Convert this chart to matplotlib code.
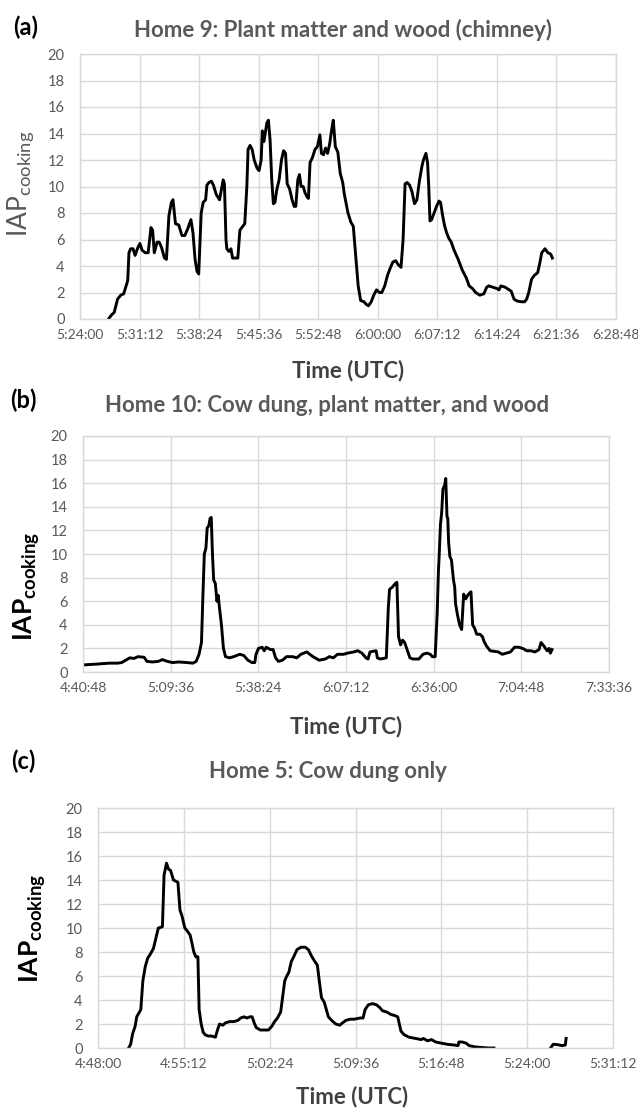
import matplotlib
matplotlib.use("Agg")
import matplotlib.pyplot as plt
import numpy as np

# ---------------- data ----------------
# Panel (a) Home 9 : minutes after 5:24:00
a_start = "5:24:00"
a_min = [3.45, 3.80, 4.14, 4.54, 4.93, 5.28, 5.52, 5.77, 5.92, 6.12, 6.41, 6.66, 7.00, 7.25, 7.50,
         7.89, 8.24, 8.58, 8.78, 8.98, 9.32, 9.57, 9.86, 10.21, 10.45, 10.75, 11.05, 11.24, 11.54,
         11.93, 12.33, 12.67, 13.02, 13.41, 13.66, 13.91, 14.15, 14.35, 14.65, 14.89, 15.19, 15.34,
         15.58, 15.88, 16.13, 16.47, 16.87, 17.11, 17.31, 17.46, 17.65, 17.75, 18.00, 18.25, 18.44,
         18.84, 19.08, 19.33, 19.68, 19.92, 20.17, 20.32, 20.56, 20.81, 21.06, 21.40, 21.65, 21.90,
         22.04, 22.24, 22.39, 22.59, 22.78, 22.98, 23.18, 23.38, 23.57, 23.77, 24.07, 24.36, 24.61,
         24.85, 25.05, 25.35, 25.64, 25.89, 26.09, 26.33, 26.53, 26.73, 26.98, 27.22, 27.47, 27.62,
         27.81, 28.11, 28.41, 28.70, 29.00, 29.19, 29.44, 29.69, 29.93, 30.18, 30.43, 30.62, 30.87,
         31.17, 31.46, 31.76, 31.96, 32.15, 32.40, 32.75, 33.04, 33.24, 33.44, 33.63, 33.93, 34.32,
         34.62, 34.87, 35.21, 35.51, 35.85, 36.20, 36.49, 36.84, 37.18, 37.48, 37.82, 38.17, 38.47,
         38.81, 39.06, 39.30, 39.55, 39.85, 40.14, 40.44, 40.73, 41.03, 41.33, 41.52, 41.82, 42.02,
         42.16, 42.31, 42.51, 42.81, 43.10, 43.40, 43.59, 43.84, 44.09, 44.33, 44.58, 44.88, 45.22,
         45.72, 46.21, 46.70, 47.05, 47.44, 47.84, 48.33, 48.82, 49.17, 49.41, 49.91, 50.40, 50.65,
         50.89, 51.39, 51.88, 52.13, 52.47, 52.87, 53.36, 53.75, 54.00, 54.25, 54.59, 54.94, 55.33,
         55.58, 55.82, 56.22, 56.56, 56.91, 57.11]
a_iap = [0.0, 0.3, 0.5, 1.5, 1.8, 1.9, 2.4, 2.9, 5.0, 5.3, 5.3, 4.8, 5.4, 5.7, 5.2,
         5.0, 5.0, 6.9, 6.7, 5.0, 5.8, 5.8, 5.4, 4.6, 4.5, 7.8, 8.8, 9.0, 7.2,
         7.1, 6.3, 6.3, 6.8, 7.5, 6.5, 4.5, 3.6, 3.4, 8.0, 8.8, 9.0, 10.1,
         10.3, 10.4, 10.1, 9.4, 9.0, 9.8, 10.5, 10.2, 6.0, 5.3, 5.1, 5.3, 4.6,
         4.6, 4.6, 6.7, 7.0, 7.2, 10.0, 12.8, 13.1, 12.8, 12.0, 11.4, 11.2, 12.0,
         14.2, 13.4, 14.0, 14.8, 15.0, 13.5, 10.5, 8.7, 8.8, 9.7, 10.5, 12.0, 12.7,
         12.5, 10.2, 9.8, 9.0, 8.5, 8.5, 10.5, 10.9, 10.0, 10.0, 9.5, 9.2, 9.1,
         11.8, 12.2, 12.8, 13.0, 13.9, 12.5, 12.4, 12.9, 12.5, 13.2, 14.3, 15.0, 13.0,
         12.6, 11.0, 10.3, 9.4, 8.8, 8.0, 7.3, 7.0, 5.5, 4.0, 2.5, 1.4, 1.3,
         1.1, 1.0, 1.3, 1.8, 2.2, 2.0, 2.0, 2.5, 3.3, 3.8, 4.3, 4.4, 4.1,
         3.9, 6.0, 10.2, 10.3, 10.1, 9.6, 8.7, 9.0, 10.4, 11.5, 12.0, 12.5, 11.8,
         10.0, 7.4, 7.5, 8.0, 8.5, 8.9, 8.8, 7.8, 7.0, 6.5, 6.1, 5.8, 5.2,
         4.5, 3.7, 3.1, 2.5, 2.3, 2.0, 1.8, 1.9, 2.4, 2.5, 2.4, 2.3, 2.2,
         2.5, 2.4, 2.2, 2.1, 1.5, 1.35, 1.3, 1.3, 1.5, 2.0, 3.0, 3.3, 3.5,
         4.2, 5.0, 5.3, 5.0, 4.9, 4.6]
a_ticks = ["5:24:00", "5:31:12", "5:38:24", "5:45:36", "5:52:48", "6:00:00",
           "6:07:12", "6:14:24", "6:21:36", "6:28:48"]

# Panel (b) Home 10 : minutes after 4:40:48
b_start = "4:40:48"
b_min = [0.0, 3.34, 6.02, 8.69, 11.37, 12.71, 14.04, 15.38, 16.72, 18.06, 20.06, 21.0, 22.74,
         24.74, 26.08, 27.69, 29.43, 31.43, 34.11, 36.11, 37.18, 38.12, 38.92, 39.46, 39.86,
         40.39, 40.79, 41.33, 41.73, 42.13, 42.53, 42.93, 43.47, 44.0, 44.41, 44.81, 45.48,
         46.14, 46.81, 48.15, 49.49, 51.49, 52.83, 54.17, 55.51, 56.44, 56.84, 57.65, 58.85,
         59.52, 60.19, 61.53, 62.46, 63.26, 64.2, 65.54, 66.88, 68.88, 70.22, 71.56, 73.56,
         74.5, 75.57, 77.58, 79.58, 80.92, 82.26, 83.59, 85.6, 86.94, 88.94, 90.28, 91.62,
         92.96, 93.63, 94.29, 96.3, 96.7, 97.64, 99.64, 100.31, 100.71, 101.65, 102.59,
         103.12, 103.66, 104.33, 104.99, 105.66, 106.33, 107.40, 108.34, 110.34, 111.68,
         113.02, 114.09, 114.76, 115.69, 116.36, 116.76, 117.03, 117.43, 117.83, 118.24,
         118.77, 119.17, 119.57, 119.84, 120.11, 120.51, 121.04, 121.71, 122.11, 122.38,
         123.05, 123.72, 124.39, 125.06, 125.73, 126.39, 127.06, 127.46, 128.0, 128.67,
         129.34, 130.41, 131.21, 131.74, 132.55, 133.75, 135.09, 136.43, 137.76, 139.1,
         140.44, 141.78, 143.11, 144.45, 145.79, 147.13, 148.46, 149.8, 150.47, 151.41,
         152.48, 153.14, 153.54, 154.08]
b_iap = [0.6, 0.65, 0.7, 0.75, 0.75, 0.8, 1.0, 1.2, 1.15, 1.3, 1.25, 0.9, 0.85,
         0.9, 1.05, 0.9, 0.8, 0.85, 0.8, 0.75, 0.9, 1.5, 2.5, 7.0, 10.0,
         10.5, 12.2, 12.4, 13.0, 13.1, 10.0, 7.8, 7.5, 6.0, 6.5, 5.5, 4.0,
         2.0, 1.3, 1.2, 1.3, 1.5, 1.4, 1.0, 0.8, 0.8, 1.5, 2.0, 2.1,
         1.8, 2.1, 1.9, 1.9, 1.2, 0.9, 1.0, 1.3, 1.3, 1.2, 1.5, 1.7,
         1.5, 1.3, 1.0, 1.1, 1.3, 1.2, 1.5, 1.5, 1.6, 1.7, 1.8, 1.6,
         1.2, 1.1, 1.7, 1.8, 1.2, 1.1, 1.2, 5.5, 7.0, 7.2, 7.5,
         7.6, 3.0, 2.3, 2.7, 2.5, 2.0, 1.2, 1.1, 1.1, 1.5,
         1.6, 1.5, 1.3, 1.3, 5.0, 8.5, 10.0, 12.5, 13.5, 15.5,
         15.8, 16.4, 13.2, 13.0, 11.0, 9.8, 9.5, 7.8, 7.2, 5.8,
         4.8, 4.0, 3.6, 6.6, 6.2, 6.5, 6.7, 6.8, 4.0, 3.7,
         3.2, 3.2, 3.0, 2.6, 2.2, 1.8, 1.75, 1.7, 1.5, 1.6,
         1.7, 2.1, 2.1, 2.0, 1.8, 1.8, 1.7, 1.9, 2.5, 2.2,
         1.8, 2.0, 1.6, 1.9]
b_ticks = ["4:40:48", "5:09:36", "5:38:24", "6:07:12", "6:36:00", "7:04:48", "7:33:36"]

# Panel (c) Home 5 : minutes after 4:48:00 (nan = no reading)
c_start = "4:48:00"
c_min = [2.565, 2.736, 2.907, 3.113, 3.249, 3.420, 3.591, 3.762, 3.968, 4.173, 4.378, 4.652,
         4.891, 5.062, 5.404, 5.541, 5.746, 5.917, 6.088, 6.328, 6.533, 6.704, 6.875, 7.046,
         7.285, 7.525, 7.730, 7.867, 8.038, 8.209, 8.380, 8.483, 8.654, 8.825, 8.996, 9.235,
         9.509, 9.851, 10.022, 10.193, 10.466, 10.706, 11.048, 11.390, 11.732, 11.971, 12.245,
         12.484, 12.758, 12.929, 13.100, 13.271, 13.613, 13.955, 14.297, 14.571, 14.810,
         15.050, 15.323, 15.494, 15.665, 15.836, 16.007, 16.213, 16.418, 16.692, 17.034,
         17.376, 17.649, 17.889, 18.128, 18.402, 18.573, 18.744, 18.983, 19.154, 19.325,
         19.599, 19.941, 20.283, 20.522, 20.796, 21.138, 21.480, 21.993, 22.233, 22.404,
         22.677, 23.019, 23.361, 23.601, 23.874, 24.216, 24.558, 24.900, 25.140, 25.414,
         25.687, 26.098, 26.611, 27.124, 27.295, 27.637, 27.979, 28.321, 28.834, 29.347,
         29.860, 30.202, 30.271, 30.544, 30.886, 31.126, 31.570, 32.083, 32.767, 33.212,
         35.5, 37.966, 38.172, 38.411, 38.685, 38.924, 39.198, 39.266]
c_iap = [0.0, 0.3, 1.2, 1.8, 2.6, 2.9, 3.2, 5.6, 6.8, 7.5, 7.8, 8.3,
         9.3, 10.0, 10.1, 14.4, 15.4, 14.9, 14.8, 14.0, 13.9, 13.8, 11.5, 11.0,
         10.0, 9.7, 9.4, 8.8, 8.0, 7.6, 7.6, 3.2, 2.0, 1.3, 1.1, 1.0,
         1.0, 0.9, 1.5, 2.0, 1.9, 2.1, 2.2, 2.2, 2.3, 2.5, 2.6,
         2.5, 2.6, 2.6, 2.1, 1.7, 1.5, 1.5, 1.5, 1.8, 2.2,
         2.5, 3.0, 4.3, 5.6, 6.0, 6.3, 7.2, 7.6, 8.2, 8.4,
         8.4, 8.2, 7.7, 7.3, 6.9, 5.5, 4.2, 3.8, 3.2, 2.6,
         2.3, 2.0, 1.9, 2.1, 2.3, 2.4, 2.4, 2.5, 2.5, 3.2,
         3.6, 3.7, 3.6, 3.4, 3.1, 3.0, 2.8, 2.7, 2.6, 1.4,
         1.1, 0.9, 0.8, 0.7, 0.8, 0.6, 0.7, 0.5, 0.4, 0.3,
         0.25, 0.2, 0.5, 0.5, 0.4, 0.2, 0.1, 0.05, 0.0, 0.0,
         np.nan, 0.0, 0.3, 0.3, 0.25, 0.2, 0.25, 0.8]
c_ticks = ["4:48:00", "4:55:12", "5:02:24", "5:09:36", "5:16:48", "5:24:00", "5:31:12"]

titles = ["Home 9: Plant matter and wood (chimney)",
          "Home 10: Cow dung, plant matter, and wood",
          "Home 5: Cow dung only"]
letters = ["(a)", "(b)", "(c)"]
y_ticks = [0, 2, 4, 6, 8, 10, 12, 14, 16, 18, 20]


def to_sec(s):
    h, m, sec = s.split(":")
    return int(h) * 3600 + int(m) * 60 + int(sec)


# ---------------- style ----------------
FONT = "Lato"
plt.rcParams["font.family"] = [FONT, "DejaVu Sans"]
plt.rcParams["mathtext.fontset"] = "custom"
plt.rcParams["mathtext.rm"] = FONT
plt.rcParams["mathtext.bf"] = FONT + ":bold"
GRID = "#d9d9d9"
TXT = "#595959"

W, H = 638, 1113
fig = plt.figure(figsize=(W / 100, H / 100), dpi=100)


def px_axes(l, t, r, b):
    return fig.add_axes([l / W, 1 - b / H, (r - l) / W, (b - t) / H])


panels = [
    dict(box=(80, 54, 616, 319), start=a_start, mins=a_min, vals=a_iap, ticks=a_ticks,
         title_xy=(343, 30), letter_xy=(26, 27), xl_xy=(348, 371), yl_xy=(21, 184), ybold=False),
    dict(box=(83, 436, 609, 672), start=b_start, mins=b_min, vals=b_iap, ticks=b_ticks,
         title_xy=(327, 405), letter_xy=(23, 400), xl_xy=(346, 727), yl_xy=(27, 586), ybold=True),
    dict(box=(98, 808, 613, 1048), start=c_start, mins=c_min, vals=c_iap, ticks=c_ticks,
         title_xy=(328, 772), letter_xy=(23, 761), xl_xy=(352, 1097), yl_xy=(33, 928), ybold=True),
]

for i, p in enumerate(panels):
    ax = px_axes(*p["box"])
    t0 = to_sec(p["start"])
    xs = t0 + np.array(p["mins"]) * 60.0
    ax.plot(xs, p["vals"], color="black", lw=2.1, solid_joinstyle="round")
    tick_pos = [to_sec(t) for t in p["ticks"]]
    ax.set_xticks(tick_pos)
    ax.set_xticklabels(p["ticks"])
    ax.set_xlim(tick_pos[0], tick_pos[-1])
    ax.set_yticks(y_ticks)
    ax.set_ylim(0, 20)
    ax.grid(True, color=GRID, lw=1.0)
    ax.set_axisbelow(True)
    for s in ax.spines.values():
        s.set_color(GRID)
        s.set_linewidth(1.0)
    ax.tick_params(length=0, labelsize=10, labelcolor=TXT)
    ax.tick_params(axis="x", pad=7)
    ax.tick_params(axis="y", pad=11, labelsize=10.5)

    fig.text(p["title_xy"][0] / W, 1 - p["title_xy"][1] / H, titles[i], ha="center", va="center",
             fontsize=16, fontweight="bold", color=TXT)
    fig.text(p["letter_xy"][0] / W, 1 - p["letter_xy"][1] / H, letters[i], ha="center", va="center",
             fontsize=17, fontweight="bold", color="black")
    fig.text(p["xl_xy"][0] / W, 1 - p["xl_xy"][1] / H, "Time (UTC)", ha="center", va="center",
             fontsize=16, fontweight="bold", color="#404040")
    if p["ybold"]:
        lab = r"$\mathbf{IAP}_{\mathbf{cooking}}$"
        col = "black"
    else:
        lab = r"$\mathrm{IAP}_{\mathrm{cooking}}$"
        col = TXT
    fig.text(p["yl_xy"][0] / W, 1 - p["yl_xy"][1] / H, lab, ha="center", va="center",
             rotation=90, fontsize=19, color=col)

fig.savefig("out.png", dpi=100, facecolor="white")
